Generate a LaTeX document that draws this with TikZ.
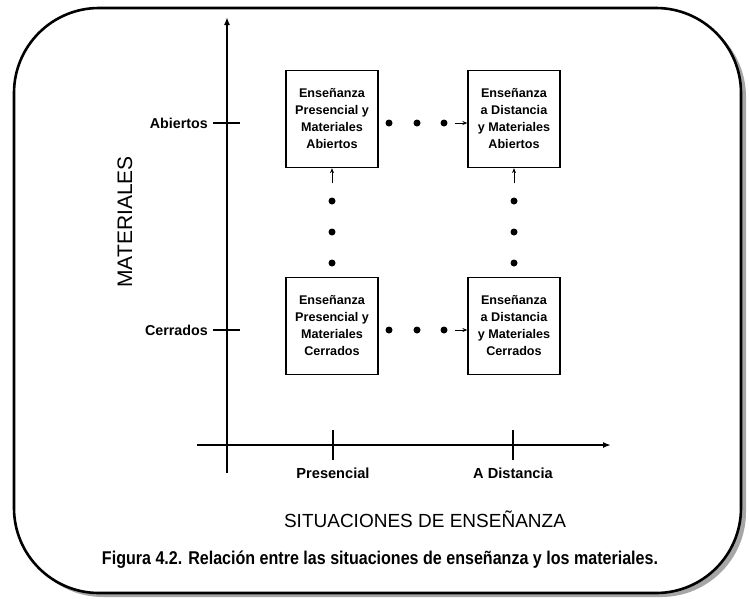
\documentclass[tikz,border=0pt]{standalone}
\usepackage{fontspec}
\setmainfont{Liberation Sans}
\usetikzlibrary{arrows,arrows.meta,shapes,positioning,calc}

\begin{document}
\begin{tikzpicture}[x=1pt,y=-1pt,
  caja/.style={draw=black, line width=1.3pt, minimum width=92pt, minimum height=97pt, inner sep=0pt, align=center, font=\fontsize{12.6}{17}\selectfont\bfseries},
  punto/.style={circle, fill=black, inner sep=0pt, minimum size=7pt},
  eje/.style={line width=2pt, -{Latex[length=8pt,width=6pt]}},
  marca/.style={line width=1.6pt},
  flecha/.style={line width=1pt, -{Stealth[length=5pt,width=4pt]}},
  etiqueta/.style={inner sep=0pt, font=\fontsize{14.3}{17}\selectfont\bfseries}]
  \useasboundingbox (0,0) rectangle (749,598);

  % marco con sombra
  \fill[gray!70, rounded corners=85pt] (18,12) rectangle (746,597);
  \draw[line width=2.6pt, fill=white, rounded corners=85pt] (14,8) rectangle (741,593);

  % ejes
  \coordinate (ytop) at (227,17);
  \coordinate (ybot) at (227,473);
  \coordinate (xleft) at (197,445);
  \coordinate (xright) at (611,445);
  \draw[eje] (ybot) -- (ytop);
  \draw[eje] (xleft) -- (xright);

  % marcas del eje vertical
  \coordinate (tA) at (213,123);
  \coordinate (tC) at (213,330);
  \draw[marca] (tA) -- ($(tA)+(27,0)$);
  \draw[marca] (tC) -- ($(tC)+(27,0)$);
  \node [etiqueta, anchor=east] (abiertos) at ($(tA)+(-5,0)$) {Abiertos};
  \node [etiqueta, anchor=east] (cerrados) at ($(tC)+(-5,0)$) {Cerrados};

  % marcas del eje horizontal
  \coordinate (tP) at (333,445);
  \coordinate (tD) at (513,445);
  \draw[marca] ($(tP)+(0,-15)$) -- ($(tP)+(0,15)$);
  \draw[marca] ($(tD)+(0,-15)$) -- ($(tD)+(0,15)$);
  \node [etiqueta, font=\fontsize{14.6}{17}\selectfont\bfseries] (presencial) at (333,473) {Presencial};
  \node [etiqueta, font=\fontsize{14.6}{17}\selectfont\bfseries] (distancia) at (513,473) {A Distancia};

  % titulos de los ejes
  \node [rotate=90, inner sep=0pt, font=\fontsize{21}{25}\selectfont] (materiales) at (125,222) {MATERIALES};
  \node [inner sep=0pt, font=\fontsize{19}{23}\selectfont] (situaciones) at (425,519) {SITUACIONES DE ENSEÑANZA};

  % cajas
  \node [caja] (PA) at (332,119) {Enseñanza\\Presencial y\\Materiales\\Abiertos};
  \node [caja] (DA) at (514,119) {Enseñanza\\a Distancia\\y Materiales\\Abiertos};
  \node [caja] (PC) at (332,326) {Enseñanza\\Presencial y\\Materiales\\Cerrados};
  \node [caja] (DC) at (514,326) {Enseñanza\\a Distancia\\y Materiales\\Cerrados};

  % puntos horizontales
  \node [punto] (a1) at (389,123) {};
  \node [punto] (a2) at (417,123) {};
  \node [punto] (a3) at (444,123) {};
  \draw[flecha, shorten <=7pt] (a3) -- (a3 -| DA.west);

  \node [punto] (c1) at (389,330) {};
  \node [punto] (c2) at (417,330) {};
  \node [punto] (c3) at (444,330) {};
  \draw[flecha, shorten <=7pt] (c3) -- (c3 -| DC.west);

  % puntos verticales
  \node [punto] (p1) at (332,201) {};
  \node [punto] (p2) at (332,232) {};
  \node [punto] (p3) at (332,263) {};
  \draw[flecha, shorten <=14pt] (p1) -- (PA.south);

  \node [punto] (d1) at (514,201) {};
  \node [punto] (d2) at (514,232) {};
  \node [punto] (d3) at (514,263) {};
  \draw[flecha, shorten <=14pt] (d1) -- (DA.south);

  % pie de figura
  \node [inner sep=0pt] (pie) at (380,560) {\resizebox{556pt}{\height}{\fontsize{18.5}{22}\selectfont\bfseries Figura 4.2. Relación entre las situaciones de enseñanza y los materiales.}};
\end{tikzpicture}
\end{document}
